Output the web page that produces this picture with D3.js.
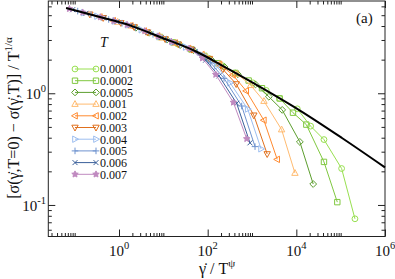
<!DOCTYPE html>
<meta charset="utf-8">
<head>
  <title>scaled flow curves</title>
</head>

<style>
body { margin: 0; background: white; }
text {
  font-family: "Liberation Serif", "Times New Roman", serif;
  fill: #111;
}
.frame { fill: none; stroke: #222; stroke-width: 1; }
.axis path { display: none; }
.axis line { stroke: #222; }
</style>

<body>
  <svg width="395" height="279"></svg>

  <script src="https://cdnjs.cloudflare.com/ajax/libs/d3/7.8.5/d3.min.js"></script>
  <script>
// temperatures in the legend
var temps = ["0.0001", "0.0002", "0.0005", "0.001", "0.002", "0.003", "0.004", "0.005", "0.006", "0.007"];

// x = rate / T^psi, y = scaled stress difference, one pair of arrays per T
var x_T00001 = [21, 42, 105, 210, 420, 1050, 2100, 4200, 10500, 21000, 42000, 105000, 210000];
var y_T00001 = [2.76, 2.48, 2.06, 1.77, 1.52, 1.24, 1.06, 0.899, 0.726, 0.508, 0.385, 0.212, 0.0752];

var x_T00002 = [8.4, 16.8, 42, 84, 168, 420, 840, 1680, 4200, 8400, 16800, 42000, 84000];
var y_T00002 = [3.19, 2.86, 2.48, 2.16, 1.86, 1.52, 1.30, 1.11, 0.899, 0.670, 0.524, 0.243, 0.106];

var x_T00005 = [2.4, 4.8, 12, 24, 48, 120, 240, 480, 1200, 2400, 4800, 12000, 24000];
var y_T00005 = [3.86, 3.48, 3.02, 2.70, 2.43, 2.00, 1.72, 1.48, 1.20, 0.931, 0.710, 0.367, 0.154];

var x_T0001 = [0.93, 1.86, 4.65, 9.3, 18.6, 46.5, 93, 186, 465, 930, 1860, 4650, 9300];
var y_T0001 = [4.35, 4.02, 3.49, 3.14, 2.82, 2.44, 2.11, 1.82, 1.49, 1.18, 0.851, 0.473, 0.193];

var x_T0002 = [0.37, 0.74, 1.85, 3.7, 7.4, 18.5, 37, 74, 185, 370, 740, 1850, 3700];
var y_T0002 = [4.82, 4.47, 4.02, 3.61, 3.26, 2.82, 2.52, 2.22, 1.82, 1.46, 1.05, 0.574, 0.256];

var x_T0003 = [0.22, 0.44, 1.1, 2.2, 4.4, 11, 22, 44, 110, 220, 440, 1100, 2200];
var y_T0003 = [5.09, 4.73, 4.27, 3.92, 3.52, 3.06, 2.74, 2.46, 2.04, 1.64, 1.21, 0.635, 0.286];

var x_T0004 = [0.16, 0.32, 0.8, 1.6, 3.2, 8, 16, 32, 80, 160, 320, 800, 1600];
var y_T0004 = [5.27, 4.90, 4.43, 4.09, 3.70, 3.22, 2.88, 2.59, 2.18, 1.75, 1.24, 0.723, 0.318];

var x_T0005 = [0.117, 0.234, 0.585, 1.17, 2.34, 5.85, 11.7, 23.4, 58.5, 117, 234, 585, 1170];
var y_T0005 = [5.44, 5.06, 4.58, 4.24, 3.88, 3.37, 3.03, 2.72, 2.33, 1.87, 1.36, 0.769, 0.333];

var x_T0006 = [0.09, 0.18, 0.45, 0.9, 1.8, 4.5, 9, 18, 45, 90, 180, 450, 900];
var y_T0006 = [5.60, 5.20, 4.72, 4.37, 4.04, 3.51, 3.16, 2.83, 2.45, 1.98, 1.43, 0.813, 0.360];

var x_T0007 = [0.076, 0.152, 0.38, 0.76, 1.52, 3.8, 7.6, 15.2, 38, 76, 152, 380, 760];
var y_T0007 = [5.70, 5.30, 4.81, 4.45, 4.11, 3.61, 3.24, 2.90, 2.52, 2.06, 1.47, 0.828, 0.391];

// master curve (black)
var masterX = [0.064, 0.37, 1.77, 8.4, 51.8, 319, 2180, 12100, 107000, 1e6];
var masterY = [5.81, 4.82, 4.05, 3.19, 2.39, 1.62, 1.05, 0.70, 0.398, 0.217];

// tick values
var xMajor = [1, 1e2, 1e4, 1e6];
var xMajorExp = ["0", "2", "4", "6"];
var yMajor = [0.1, 1];
var yMajorExp = ["-1", "0"];

var colors = ["#98e050", "#80c840", "#5c9e2e", "#ffbb70", "#ff8a30", "#e0701e",
              "#9dbef0", "#6f93cf", "#3a5f9a", "#c08ac0"];
var marks = ["circle", "square", "diamond", "triUp", "triLeft", "triDown",
             "triRight", "plus", "times", "star"];

var xs = [x_T00001, x_T00002, x_T00005, x_T0001, x_T0002, x_T0003, x_T0004, x_T0005, x_T0006, x_T0007];
var ys = [y_T00001, y_T00002, y_T00005, y_T0001, y_T0002, y_T0003, y_T0004, y_T0005, y_T0006, y_T0007];

var series = temps.map(function(t, i) {
  return {
    T: t, color: colors[i], mark: marks[i],
    points: xs[i].map(function(v, j) { return [v, ys[i][j]]; })
  };
});

var pLeft = 48.3, pRight = 385, pTop = 1, pBottom = 236.5;

var x = d3.scaleLog().domain([0.0254, 1e6]).range([pLeft, pRight]);
var y = d3.scaleLog().domain([0.0522, 6.7]).range([pBottom, pTop]);

var svg = d3.select('svg');

// marker shapes
function markerPath(kind) {
  var p = d3.path();
  if (kind == "circle") {
    p.moveTo(2.9, 0); p.arc(0, 0, 2.9, 0, 2 * Math.PI);
  } else if (kind == "square") {
    p.rect(-2.7, -2.7, 5.4, 5.4);
  } else if (kind == "diamond") {
    p.moveTo(0, -3.4); p.lineTo(3.4, 0); p.lineTo(0, 3.4); p.lineTo(-3.4, 0); p.closePath();
  } else if (kind.indexOf("tri") == 0) {
    p.moveTo(0, -3.5); p.lineTo(3.2, 2.3); p.lineTo(-3.2, 2.3); p.closePath();
  } else if (kind == "plus") {
    p.moveTo(-3.3, 0); p.lineTo(3.3, 0); p.moveTo(0, -3.3); p.lineTo(0, 3.3);
  } else if (kind == "times") {
    p.moveTo(-2.5, -2.5); p.lineTo(2.5, 2.5); p.moveTo(-2.5, 2.5); p.lineTo(2.5, -2.5);
  } else if (kind == "star") {
    for (var k = 0; k < 10; k++) {
      var r = k % 2 ? 1.6 : 3.4, a = -Math.PI / 2 + k * Math.PI / 5;
      if (k == 0) p.moveTo(r * Math.cos(a), r * Math.sin(a));
      else p.lineTo(r * Math.cos(a), r * Math.sin(a));
    }
    p.closePath();
  }
  return p.toString();
}
var rot = { triLeft: -90, triDown: 180, triRight: 90 };

function addMarker(g, kind, color, px, py) {
  g.append('path')
    .attr('d', markerPath(kind))
    .attr('transform', 'translate(' + px + ',' + py + ')' + (rot[kind] ? ' rotate(' + rot[kind] + ')' : ''))
    .attr('fill', kind == "star" ? color : 'none')
    .attr('stroke', color)
    .attr('stroke-width', 1);
}

// axes ticks (inward, mirrored)
var xMinor = [], yMinor = [];
[-2, 0, 2, 4].forEach(function(e) {
  for (var k = 2; k <= 10; k++) {
    var v = k * Math.pow(10, e);
    if (v > x.domain()[0] && v < x.domain()[1] && xMajor.indexOf(v) < 0) xMinor.push(v);
  }
});
[-2, -1, 0].forEach(function(e) {
  for (var k = 2; k <= 9; k++) {
    var v = k * Math.pow(10, e);
    if (v > y.domain()[0] && v < y.domain()[1]) yMinor.push(v);
  }
});

function tickAxis(axis, vals, size, tr) {
  svg.append('g').attr('class', 'axis').attr('transform', tr)
    .call(axis.tickValues(vals).tickSize(size).tickFormat(''));
}
tickAxis(d3.axisBottom(x), xMajor, -7, 'translate(0,' + pBottom + ')');
tickAxis(d3.axisBottom(x), xMinor, -3.5, 'translate(0,' + pBottom + ')');
tickAxis(d3.axisTop(x), xMajor, -7, 'translate(0,' + pTop + ')');
tickAxis(d3.axisTop(x), xMinor, -3.5, 'translate(0,' + pTop + ')');
tickAxis(d3.axisLeft(y), yMajor, -7, 'translate(' + pLeft + ',0)');
tickAxis(d3.axisLeft(y), yMinor, -3.5, 'translate(' + pLeft + ',0)');
tickAxis(d3.axisRight(y), yMajor, -7, 'translate(' + pRight + ',0)');
tickAxis(d3.axisRight(y), yMinor, -3.5, 'translate(' + pRight + ',0)');

svg.append('rect').attr('class', 'frame')
  .attr('x', pLeft).attr('y', pTop)
  .attr('width', pRight - pLeft).attr('height', pBottom - pTop);

// tick labels
xMajor.forEach(function(v, i) {
  var t = svg.append('text')
    .attr('x', x(v)).attr('y', 256)
    .attr('text-anchor', 'middle')
    .style('font-size', '15px')
    .text('10');
  t.append('tspan').attr('dy', -7).style('font-size', '10.5px').text(xMajorExp[i]);
});
yMajor.forEach(function(v, i) {
  var t = svg.append('text')
    .attr('x', 46).attr('y', y(v) + 6)
    .attr('text-anchor', 'end')
    .style('font-size', '15px')
    .text('10');
  t.append('tspan').attr('dy', -7).style('font-size', '10.5px').text(yMajorExp[i]);
});

// axis titles
var xt = svg.append('text')
  .attr('x', 217).attr('y', 274)
  .attr('text-anchor', 'middle')
  .style('font-size', '16px')
  .text('\u03b3\u0307 / T');
xt.append('tspan').attr('dy', -7).style('font-size', '11px').text('\u03c8');

var yt = svg.append('text')
  .attr('transform', 'translate(19,118) rotate(-90)')
  .attr('text-anchor', 'middle')
  .style('font-size', '16px')
  .text('[\u03c3(\u03b3\u0307,T=0) \u2212 \u03c3(\u03b3\u0307,T)] / T');
yt.append('tspan').attr('dy', -7).style('font-size', '11px').text('1/\u03b1');

svg.append('text')
  .attr('x', 356).attr('y', 23)
  .style('font-size', '15px')
  .text('(a)');

// data series
var line = d3.line()
  .x(function(d) { return x(d[0]); })
  .y(function(d) { return y(d[1]); });

var groups = svg.selectAll('g.series')
  .data(series)
  .enter()
  .append('g')
  .attr('class', 'series');

groups.append('path')
  .attr('d', function(d) { return line(d.points); })
  .attr('fill', 'none')
  .attr('stroke', function(d) { return d.color; })
  .attr('stroke-width', 1);

groups.each(function(s) {
  var g = d3.select(this);
  s.points.forEach(function(p) {
    addMarker(g, s.mark, s.color, x(p[0]), y(p[1]));
  });
});

// master curve
var master = masterX.map(function(v, i) { return [v, masterY[i]]; });
svg.append('path')
  .attr('d', line.curve(d3.curveMonotoneX)(master))
  .attr('fill', 'none')
  .attr('stroke', 'black')
  .attr('stroke-width', 2);

// legend
svg.append('text')
  .attr('x', 100).attr('y', 47)
  .style('font-size', '14px')
  .style('font-style', 'italic')
  .text('T');

var leg = svg.selectAll('g.legend')
  .data(series)
  .enter()
  .append('g')
  .attr('class', 'legend')
  .attr('transform', function(d, i) { return 'translate(0,' + (69 + i * 11.7) + ')'; });

leg.append('line')
  .attr('x1', 75).attr('x2', 96)
  .attr('stroke', function(d) { return d.color; })
  .attr('stroke-width', 1);

leg.each(function(s) {
  var g = d3.select(this);
  addMarker(g, s.mark, s.color, 75, 0);
  addMarker(g, s.mark, s.color, 96, 0);
});

leg.append('text')
  .attr('x', 100).attr('y', 4.3)
  .style('font-size', '12px')
  .text(function(d) { return d.T; });
  </script>
</body>
</html>
